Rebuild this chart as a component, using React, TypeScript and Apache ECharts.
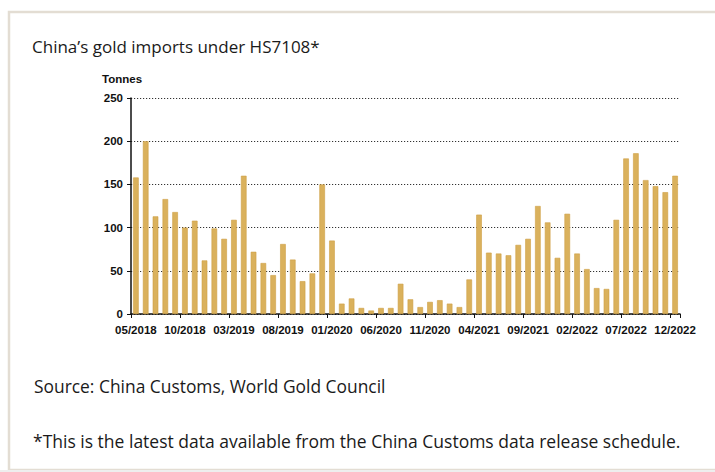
import React, { useEffect, useRef } from "react";
import * as echarts from "echarts";

const months: string[] = [
  "05/2018","06/2018","07/2018","08/2018","09/2018","10/2018","11/2018","12/2018",
  "01/2019","02/2019","03/2019","04/2019","05/2019","06/2019","07/2019","08/2019","09/2019","10/2019","11/2019","12/2019",
  "01/2020","02/2020","03/2020","04/2020","05/2020","06/2020","07/2020","08/2020","09/2020","10/2020","11/2020","12/2020",
  "01/2021","02/2021","03/2021","04/2021","05/2021","06/2021","07/2021","08/2021","09/2021","10/2021","11/2021","12/2021",
  "01/2022","02/2022","03/2022","04/2022","05/2022","06/2022","07/2022","08/2022","09/2022","10/2022","11/2022","12/2022",
];

const tonnes: number[] = [
  158, 200, 113, 133, 118, 100, 108, 62,
  99, 87, 109, 160, 72, 59, 45, 81, 63, 38, 47, 150,
  85, 12, 18, 7, 4, 7, 7, 35, 17, 8, 14, 16,
  12, 8, 40, 115, 71, 70, 68, 80, 87, 125, 106, 65,
  116, 70, 52, 30, 29, 109, 180, 186, 155, 148, 141, 160,
];

const yTicks = { min: 0, max: 250, interval: 50 };

const titleText = "China\u2019s gold imports under HS7108*";
const unitText = "Tonnes";
const sourceText = "Source: China Customs, World Gold Council";
const noteText = "*This is the latest data available from the China Customs data release schedule.";

export default function App() {
  const ref = useRef<HTMLDivElement>(null);
  useEffect(() => {
    if (!ref.current) return;
    const chart = echarts.init(ref.current, null, { renderer: "svg" });
    const axisFont = "'Liberation Sans', Arial, sans-serif";
    const textFont = "'Open Sans', 'Noto Sans', sans-serif";
    chart.setOption({
      animation: false,
      backgroundColor: "#ffffff",
      grid: { left: 131, right: 35, top: 98, bottom: 158, containLabel: false },
      xAxis: {
        type: "category",
        data: months,
        boundaryGap: true,
        axisLine: { show: true, lineStyle: { color: "#111111", width: 1.5 } },
        axisTick: { show: true, interval: 4, length: 4, lineStyle: { color: "#111111", width: 1 } },
        axisLabel: {
          interval: 4,
          showMinLabel: true,
          showMaxLabel: true,
          hideOverlap: false,
          color: "#111111",
          fontFamily: axisFont,
          fontWeight: "bold",
          fontSize: 11.5,
          margin: 10,
        },
        splitLine: { show: false },
      },
      yAxis: {
        type: "value",
        min: yTicks.min,
        max: yTicks.max,
        interval: yTicks.interval,
        axisLine: { show: true, lineStyle: { color: "#111111", width: 1.5 } },
        axisTick: { show: true, length: 4, lineStyle: { color: "#111111", width: 1 } },
        axisLabel: {
          color: "#111111",
          fontFamily: axisFont,
          fontWeight: "bold",
          fontSize: 11.5,
          margin: 8,
        },
        splitLine: {
          show: true,
          lineStyle: { color: "#333333", width: 1, type: [1.2, 1.8] },
        },
      },
      series: [
        {
          type: "bar",
          data: tonnes,
          barWidth: 5.6,
          itemStyle: { color: "#DAB15C", borderColor: "#CFA044", borderWidth: 0.6 },
        },
      ],
      graphic: [
        {
          type: "rect",
          z: -10,
          shape: { x: 9, y: 12, width: 720, height: 458 },
          style: { fill: "#ffffff", stroke: "#E3DDD3", lineWidth: 2.5 },
          silent: true,
        },
        {
          type: "rect",
          z: -9,
          shape: { x: 0, y: 470, width: 715, height: 2 },
          style: { fill: "#EEEEEE" },
          silent: true,
        },
        {
          type: "text",
          x: 32,
          y: 46,
          style: { text: titleText, fill: "#1a1a1a", font: `400 17px ${textFont}`, textVerticalAlign: "middle" },
        },
        {
          type: "text",
          x: 102,
          y: 79,
          style: { text: unitText, fill: "#111111", font: `bold 11.5px ${axisFont}`, textVerticalAlign: "middle" },
        },
        {
          type: "text",
          x: 34,
          y: 386,
          style: { text: sourceText, fill: "#1a1a1a", font: `400 17.4px ${textFont}`, textVerticalAlign: "middle" },
        },
        {
          type: "text",
          x: 33,
          y: 441,
          style: { text: noteText, fill: "#1a1a1a", font: `400 17.5px ${textFont}`, textVerticalAlign: "middle" },
        },
      ],
    });
    return () => chart.dispose();
  }, []);
  return (
    <div
      ref={ref}
      style={{ position: "absolute", left: 0, top: 0, width: 715, height: 472 }}
    />
  );
}
